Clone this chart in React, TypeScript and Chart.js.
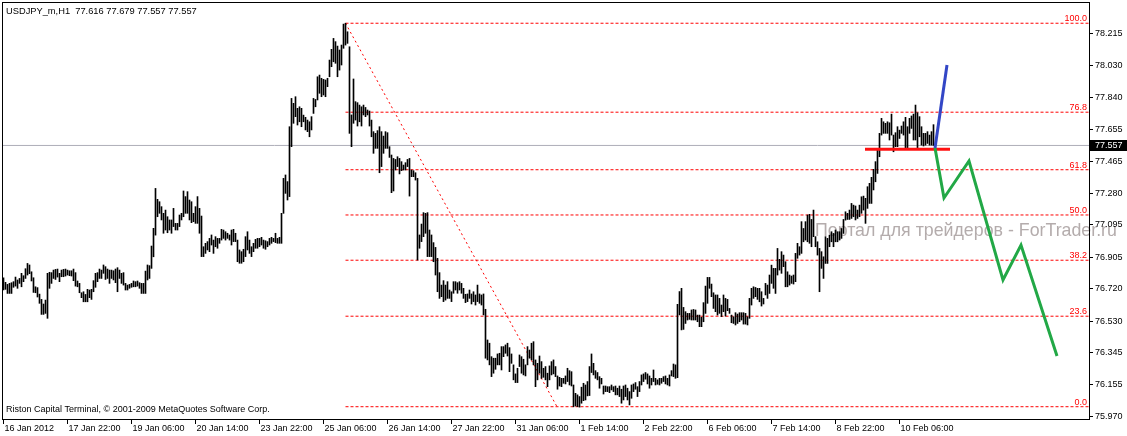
import React, { useEffect, useRef } from "react";
import { Chart, registerables } from "chart.js";

Chart.register(...registerables);

const chartTitle = "USDJPY_m,H1  77.616 77.679 77.557 77.557";
const copyrightText = "Riston Capital Terminal, © 2001-2009 MetaQuotes Software Corp.";
const watermarkText = "Портал для трейдеров - ForTrader.ru";

// Hourly bars: highs
const barHigh: number[] = [
  76.781, 76.754, 76.742, 76.748, 76.752, 76.758, 76.785, 76.768, 76.777, 76.807,
  76.793, 76.834, 76.865, 76.856, 76.816, 76.781, 76.728, 76.723, 76.685, 76.654,
  76.627, 76.650, 76.807, 76.813, 76.811, 76.826, 76.830, 76.832, 76.807, 76.826,
  76.830, 76.832, 76.826, 76.822, 76.822, 76.832, 76.811, 76.762, 76.748, 76.693,
  76.699, 76.683, 76.713, 76.709, 76.713, 76.764, 76.807, 76.811, 76.832, 76.826,
  76.856, 76.846, 76.832, 76.826, 76.826, 76.822, 76.832, 76.840, 76.826, 76.807,
  76.811, 76.748, 76.738, 76.742, 76.748, 76.762, 76.758, 76.762, 76.752, 76.748,
  76.748, 76.820, 76.856, 76.852, 76.967, 77.071, 77.305, 77.241, 77.227,
  77.198, 77.159, 77.178, 77.139, 77.120, 77.120, 77.188, 77.100,
  77.100, 77.149, 77.159, 77.290, 77.257, 77.286, 77.237, 77.227, 77.159, 77.198, 77.257, 77.188,
  77.143, 76.963, 76.983, 76.993, 77.012, 77.032, 77.002, 77.022, 77.012, 77.012,
  77.065, 77.061, 77.051, 77.042, 77.032, 77.061, 77.065, 77.042, 77.002, 76.944,
  76.934, 76.948, 77.022, 77.051, 77.002, 76.963, 76.983, 77.006, 77.012, 77.012,
  77.018, 77.002, 76.998, 76.993, 77.012, 77.018, 77.012, 77.042, 77.012, 77.018,
  77.159, 77.364, 77.384, 77.345, 77.667, 77.833, 77.804, 77.843, 77.775, 77.784,
  77.775, 77.735, 77.722, 77.706, 77.696, 77.726, 77.833, 77.827, 77.960, 77.970,
  77.951, 77.945, 77.941, 77.951, 78.058, 78.121, 78.185, 78.166, 78.140, 78.117,
  78.146, 78.269, 78.274,
  78.224, 78.136, 77.736, 77.947, 77.814, 77.808, 77.794, 77.784, 77.794, 77.780, 77.765,
  77.759, 77.706, 77.638, 77.628, 77.644, 77.667, 77.638, 77.612, 77.638, 77.632,
  77.550, 77.501, 77.481, 77.475, 77.491, 77.481, 77.462, 77.442, 77.456, 77.475,
  77.481, 77.413, 77.409, 77.397, 77.364, 77.032, 77.096, 77.163, 77.159, 77.163,
  77.061, 77.032, 76.987, 76.959, 76.895, 76.811, 76.738, 76.764, 76.738, 76.758,
  76.709, 76.699, 76.758, 76.758, 76.752, 76.758, 76.748, 76.719, 76.684, 76.686,
  76.709, 76.686, 76.699, 76.680, 76.738, 76.686, 76.680, 76.686,
  76.596, 76.416, 76.397, 76.318, 76.309, 76.309, 76.334, 76.338, 76.377, 76.377,
  76.387, 76.397, 76.371, 76.334, 76.270, 76.217, 76.250, 76.328, 76.318, 76.303,
  76.270, 76.377, 76.357, 76.397, 76.406, 76.299, 76.279, 76.322, 76.289, 76.250,
  76.260, 76.221, 76.264, 76.289, 76.299, 76.260, 76.205, 76.197, 76.191, 76.191,
  76.205, 76.250, 76.236, 76.230, 76.152, 76.103, 76.094, 76.084, 76.139, 76.162,
  76.152, 76.172, 76.260, 76.334, 76.279, 76.236, 76.225, 76.201, 76.191, 76.146,
  76.146, 76.142, 76.142, 76.152, 76.142, 76.146, 76.133, 76.146, 76.127, 76.146,
  76.152, 76.133, 76.113, 76.152, 76.158, 76.166, 76.142, 76.172, 76.211, 76.217,
  76.225, 76.217, 76.205, 76.191, 76.240, 76.191, 76.182, 76.191, 76.191, 76.201,
  76.205, 76.191, 76.211, 76.236, 76.275, 76.270, 76.625, 76.700, 76.719,
  76.607, 76.582, 76.572, 76.572, 76.592, 76.595, 76.592, 76.562, 76.562, 76.549,
  76.635, 76.732, 76.783, 76.783, 76.744, 76.693, 76.680, 76.680, 76.660, 76.621,
  76.680, 76.660, 76.654, 76.601, 76.562, 76.552, 76.576, 76.568, 76.576, 76.576,
  76.576, 76.572, 76.552, 76.660, 76.719, 76.728, 76.724, 76.719, 76.719, 76.699,
  76.660, 76.748, 76.738, 76.797, 76.855, 76.836, 76.836, 76.953, 76.889, 76.934,
  76.914, 76.875, 76.816, 76.797, 76.791, 76.797, 76.924, 76.983, 76.963, 77.110,
  77.070, 77.110, 77.149, 77.153, 77.123, 77.178, 77.022, 76.992, 76.953, 76.934,
  76.904, 77.022, 77.012, 77.031, 77.051, 77.041, 77.061, 77.051, 77.051, 77.070,
  77.123, 77.168, 77.159,
  77.178, 77.217, 77.207, 77.202, 77.178, 77.207, 77.256, 77.260, 77.247, 77.315,
  77.335, 77.370, 77.417, 77.462, 77.540, 77.628, 77.716, 77.696, 77.687, 77.696,
  77.690, 77.741, 77.618, 77.632, 77.667, 77.647, 77.671, 77.696, 77.722, 77.667,
  77.716, 77.730, 77.741, 77.794, 77.749, 77.726, 77.667, 77.628, 77.628, 77.638,
  77.618, 77.638, 77.679,
];

// Hourly bars: lows
const barLow: number[] = [
  76.709, 76.713, 76.689, 76.689, 76.689, 76.725, 76.732, 76.719, 76.748, 76.728,
  76.758, 76.777, 76.797, 76.805, 76.762, 76.695, 76.693, 76.668, 76.631, 76.566,
  76.566, 76.572, 76.543, 76.719, 76.748, 76.777, 76.771, 76.785, 76.758, 76.787,
  76.787, 76.791, 76.797, 76.793, 76.791, 76.764, 76.732, 76.728, 76.693, 76.664,
  76.640, 76.640, 76.640, 76.664, 76.654, 76.699, 76.725, 76.758, 76.777, 76.777,
  76.807, 76.771, 76.777, 76.748, 76.777, 76.768, 76.752, 76.699, 76.777, 76.748,
  76.738, 76.709, 76.709, 76.719, 76.725, 76.728, 76.728, 76.732, 76.719, 76.689,
  76.689, 76.689, 76.768, 76.777, 76.836, 76.904, 77.031, 77.139, 77.159,
  77.120, 77.042, 77.061, 77.045, 77.061, 77.042, 77.081, 77.061,
  77.061, 77.081, 77.120, 77.139, 77.159, 77.159, 77.120, 77.104, 77.110, 77.100, 77.100, 77.042,
  76.905, 76.905, 76.924, 76.944, 76.934, 76.973, 76.924, 76.963, 76.954, 76.983,
  77.002, 77.012, 77.002, 77.012, 77.002, 76.973, 76.993, 76.993, 76.875, 76.866,
  76.866, 76.875, 76.905, 76.944, 76.924, 76.905, 76.934, 76.954, 76.954, 76.963,
  76.973, 76.954, 76.948, 76.963, 76.973, 76.983, 76.993, 76.987, 76.983, 76.983,
  76.983, 77.159, 77.276, 77.237, 77.257, 77.550, 77.687, 77.726, 77.677, 77.696,
  77.667, 77.696, 77.648, 77.638, 77.608, 77.648, 77.745, 77.784, 77.824, 77.863,
  77.843, 77.853, 77.843, 77.902, 77.960, 78.019, 78.048, 78.039, 77.960, 77.999,
  78.029, 78.127, 78.146,
  78.156, 77.628, 77.550, 77.687, 77.706, 77.671, 77.696, 77.671, 77.736, 77.726, 77.736,
  77.671, 77.608, 77.511, 77.540, 77.540, 77.397, 77.433, 77.511, 77.540, 77.540,
  77.487, 77.280, 77.290, 77.413, 77.433, 77.390, 77.409, 77.413, 77.413, 77.433,
  77.260, 77.374, 77.374, 77.354, 76.885, 76.954, 76.993, 77.022, 77.042, 76.905,
  76.905, 76.905, 76.875, 76.797, 76.699, 76.660, 76.670, 76.641, 76.650, 76.660,
  76.660, 76.641, 76.690, 76.709, 76.690, 76.709, 76.690, 76.660, 76.635, 76.641,
  76.660, 76.627, 76.641, 76.621, 76.641, 76.631, 76.621, 76.563,
  76.309, 76.299, 76.270, 76.201, 76.221, 76.244, 76.270, 76.270, 76.240, 76.318,
  76.338, 76.322, 76.230, 76.279, 76.182, 76.166, 76.166, 76.260, 76.221, 76.211,
  76.205, 76.270, 76.309, 76.299, 76.270, 76.142, 76.182, 76.221, 76.191, 76.197,
  76.182, 76.142, 76.182, 76.211, 76.217, 76.201, 76.127, 76.146, 76.142, 76.162,
  76.158, 76.172, 76.152, 76.146, 76.024, 76.029, 76.025, 76.022, 76.045, 76.060,
  76.064, 76.088, 76.090, 76.225, 76.211, 76.191, 76.182, 76.133, 76.158, 76.099,
  76.113, 76.113, 76.107, 76.123, 76.113, 76.094, 76.094, 76.084, 76.045, 76.064,
  76.084, 76.064, 76.035, 76.074, 76.113, 76.127, 76.084, 76.113, 76.152, 76.172,
  76.186, 76.158, 76.133, 76.152, 76.172, 76.152, 76.156, 76.152, 76.162, 76.172,
  76.158, 76.152, 76.146, 76.205, 76.201, 76.191, 76.195, 76.563, 76.475,
  76.478, 76.513, 76.533, 76.537, 76.533, 76.533, 76.533, 76.523, 76.494, 76.494,
  76.523, 76.572, 76.631, 76.719, 76.670, 76.601, 76.582, 76.562, 76.572, 76.553,
  76.582, 76.556, 76.588, 76.572, 76.517, 76.513, 76.504, 76.513, 76.523, 76.533,
  76.509, 76.509, 76.504, 76.543, 76.621, 76.660, 76.670, 76.654, 76.640, 76.615,
  76.627, 76.680, 76.660, 76.689, 76.748, 76.719, 76.689, 76.797, 76.826, 76.807,
  76.846, 76.728, 76.728, 76.738, 76.748, 76.744, 76.758, 76.895, 76.914, 76.924,
  76.992, 77.002, 76.992, 76.983, 76.963, 77.022, 76.963, 76.914, 76.699, 76.836,
  76.777, 76.865, 76.865, 76.963, 76.992, 76.963, 76.992, 76.992, 77.002, 77.012,
  77.041, 77.119, 77.123,
  77.123, 77.129, 77.139, 77.120, 77.129, 77.139, 77.159, 77.178, 77.100, 77.188,
  77.217, 77.217, 77.296, 77.344, 77.393, 77.491, 77.618, 77.628, 77.628, 77.628,
  77.589, 77.618, 77.520, 77.550, 77.550, 77.598, 77.628, 77.618, 77.540, 77.534,
  77.628, 77.657, 77.589, 77.589, 77.540, 77.608, 77.559, 77.554, 77.559, 77.569,
  77.559, 77.559, 77.557,
];

const dateTickBars = [0, 32, 64, 96, 128, 160, 192, 224, 256, 288, 320, 352, 384, 416, 448];
const dateTickLabels = [
  "16 Jan 2012", "17 Jan 22:00", "19 Jan 06:00", "20 Jan 14:00", "23 Jan 22:00",
  "25 Jan 06:00", "26 Jan 14:00", "27 Jan 22:00", "31 Jan 06:00", "1 Feb 14:00",
  "2 Feb 22:00", "6 Feb 06:00", "7 Feb 14:00", "8 Feb 22:00", "10 Feb 06:00",
];
const priceTicks = [78.215, 78.03, 77.84, 77.655, 77.465, 77.28, 77.095, 76.905, 76.72, 76.53, 76.345, 76.155, 75.97];

const currentPrice = 77.557;

const fibHigh = 78.274;
const fibLow = 76.0245;
const fibLevels = [100, 76.8, 61.8, 50, 38.2, 23.6, 0];
const fibAnchorBars = [171, 276.75];

const supportPrice = 77.535;
const supportBars = [430.75, 473.25];
const bullBars = [465.75, 471.75];
const bullPrices = [77.542, 78.029];
const bearBars = [465.75, 470.25, 482.75, 499.75, 508.75, 526.75];
const bearPrices = [77.542, 77.249, 77.466, 76.768, 76.973, 76.322];

const X_MIN = -0.25;
const X_MAX = 542.75;
const Y_MIN = 75.9524;
const Y_MAX = 78.3927;
const SMALL_FONT = '9px "Liberation Sans"';

const overlayPlugin = {
  id: "mt4Overlay",
  beforeDatasetsDraw(chart: any) {
    const { ctx } = chart;
    ctx.save();
    ctx.font = '17.8px "Liberation Sans"';
    ctx.fillStyle = "#b4acac";
    ctx.textAlign = "left";
    ctx.textBaseline = "middle";
    ctx.fillText(watermarkText, 815, 231);
    ctx.restore();
  },
  afterDatasetsDraw(chart: any) {
    const { ctx, chartArea: a, scales } = chart;
    const xs = scales.x;
    const ys = scales.y;
    ctx.save();
    ctx.strokeStyle = "#000";
    ctx.lineWidth = 1;
    ctx.strokeRect(a.left - 0.5, a.top - 0.5, a.right - a.left + 1, a.bottom - a.top + 1);

    ctx.font = SMALL_FONT;
    ctx.fillStyle = "#ff0000";
    ctx.textAlign = "right";
    ctx.textBaseline = "alphabetic";
    fibLevels.forEach((lvl) => {
      const py = ys.getPixelForValue(fibLow + ((fibHigh - fibLow) * lvl) / 100);
      ctx.fillText(lvl.toFixed(1), a.right - 2, py - 2);
    });

    ctx.fillStyle = "#000";
    ctx.textAlign = "left";
    ctx.textBaseline = "middle";
    priceTicks.forEach((v) => {
      const py = Math.round(ys.getPixelForValue(v)) + 0.5;
      ctx.beginPath();
      ctx.moveTo(a.right + 1, py);
      ctx.lineTo(a.right + 4, py);
      ctx.stroke();
      ctx.fillText(v.toFixed(3), a.right + 6, py);
    });

    const cp = ys.getPixelForValue(currentPrice);
    ctx.fillStyle = "#000";
    ctx.fillRect(a.right + 1, Math.round(cp) - 5, 38, 11);
    ctx.fillStyle = "#fff";
    ctx.fillText(currentPrice.toFixed(3), a.right + 6, Math.round(cp) + 0.5);

    ctx.fillStyle = "#000";
    dateTickBars.forEach((b, i) => {
      const px = Math.floor(xs.getPixelForValue(b)) + 0.5;
      ctx.beginPath();
      ctx.moveTo(px, a.bottom + 1);
      ctx.lineTo(px, a.bottom + 5);
      ctx.stroke();
      ctx.fillText(dateTickLabels[i], px + 1, a.bottom + 10);
    });

    ctx.fillText(copyrightText, 6, 410);
    ctx.font = '9.3px "Liberation Sans"';
    ctx.fillText(chartTitle, 6, 11);
    ctx.restore();
  },
};

export default function App() {
  const canvasRef = useRef<HTMLCanvasElement | null>(null);

  useEffect(() => {
    document.body.style.margin = "0";
    const canvas = canvasRef.current;
    if (!canvas) return;

    const n = Math.min(barHigh.length, barLow.length);
    const bars = [] as { x: number; y: number[] }[];
    for (let i = 0; i < n; i++) bars.push({ x: i, y: [barLow[i], barHigh[i]] });

    const fibPrice = (lvl: number) => fibLow + ((fibHigh - fibLow) * lvl) / 100;

    const lineBase = {
      type: "line" as const,
      pointRadius: 0,
      pointHoverRadius: 0,
      fill: false,
      tension: 0,
    };

    const datasets: any[] = [
      {
        type: "bar",
        data: bars,
        backgroundColor: "#000000",
        borderWidth: 0,
        barThickness: 1,
        order: 5,
      },
      ...fibLevels.map((lvl) => ({
        ...lineBase,
        data: [
          { x: fibAnchorBars[0], y: fibPrice(lvl) },
          { x: X_MAX, y: fibPrice(lvl) },
        ],
        borderColor: "#ff0000",
        borderWidth: 1,
        borderDash: [3, 2],
        order: 7,
      })),
      {
        ...lineBase,
        data: [
          { x: fibAnchorBars[0], y: fibHigh },
          { x: fibAnchorBars[1], y: fibLow },
        ],
        borderColor: "#ff0000",
        borderWidth: 1,
        borderDash: [2, 3],
        order: 7,
      },
      {
        ...lineBase,
        data: [
          { x: X_MIN, y: currentPrice },
          { x: X_MAX, y: currentPrice },
        ],
        borderColor: "#aeaeb8",
        borderWidth: 1,
        order: 8,
      },
      {
        ...lineBase,
        data: supportBars.map((b) => ({ x: b, y: supportPrice })),
        borderColor: "#ff1010",
        borderWidth: 3,
        order: 2,
      },
      {
        ...lineBase,
        data: bullBars.map((b, i) => ({ x: b, y: bullPrices[i] })),
        borderColor: "#3346c6",
        borderWidth: 3,
        order: 1,
      },
      {
        ...lineBase,
        data: bearBars.map((b, i) => ({ x: b, y: bearPrices[i] })),
        borderColor: "#22a846",
        borderWidth: 3,
        order: 1,
      },
    ];

    const chart = new Chart(canvas, {
      type: "bar",
      data: { datasets },
      options: {
        animation: false,
        responsive: false,
        devicePixelRatio: 1,
        events: [],
        layout: { padding: { left: 3, top: 3, right: 38, bottom: 17 } },
        plugins: { legend: { display: false }, tooltip: { enabled: false } },
        scales: {
          x: { type: "linear", min: X_MIN, max: X_MAX, display: false, offset: false },
          y: { type: "linear", min: Y_MIN, max: Y_MAX, display: false },
        },
      },
      plugins: [overlayPlugin],
    } as any);

    return () => chart.destroy();
  }, []);

  return (
    <canvas
      ref={canvasRef}
      width={1127}
      height={436}
      style={{ display: "block", width: "1127px", height: "436px" }}
    />
  );
}
